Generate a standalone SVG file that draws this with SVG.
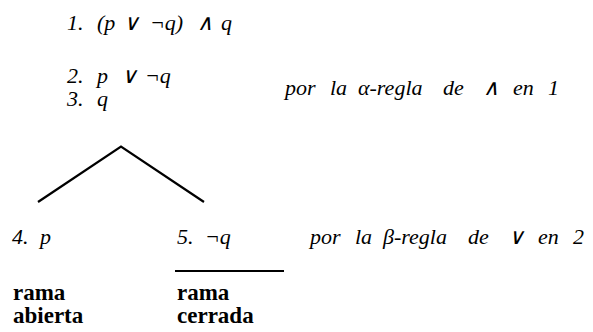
<svg xmlns="http://www.w3.org/2000/svg" width="593" height="332" viewBox="0 0 593 332">
<rect width="593" height="332" fill="#fff"/>
<g id="n1"><text font-family="Liberation Serif" font-style="italic" font-size="22" y="30"><tspan x="67">1.</tspan><tspan x="97">(p</tspan><tspan x="123">∨</tspan><tspan x="150">¬q)</tspan><tspan x="197">∧</tspan><tspan x="221">q</tspan></text></g>
<g id="n2"><text font-family="Liberation Serif" font-style="italic" font-size="22" y="83"><tspan x="67">2.</tspan><tspan x="97">p</tspan><tspan x="121">∨</tspan><tspan x="145">¬q</tspan></text></g>
<g id="n3"><text font-family="Liberation Serif" font-style="italic" font-size="22" y="106"><tspan x="67">3.</tspan><tspan x="97">q</tspan></text></g>
<g id="r1"><text font-family="Liberation Serif" font-style="italic" font-size="22" y="95"><tspan x="285">por</tspan><tspan x="330">la</tspan><tspan x="358">α-regla</tspan><tspan x="443">de</tspan><tspan x="483">∧</tspan><tspan x="513">en</tspan><tspan x="548">1</tspan></text></g>
<g id="n4"><text font-family="Liberation Serif" font-style="italic" font-size="22" y="244"><tspan x="12">4.</tspan><tspan x="40">p</tspan></text></g>
<g id="n5"><text font-family="Liberation Serif" font-style="italic" font-size="22" y="244"><tspan x="177">5.</tspan><tspan x="205">¬q</tspan></text></g>
<g id="r2"><text font-family="Liberation Serif" font-style="italic" font-size="22" y="244"><tspan x="310">por</tspan><tspan x="355">la</tspan><tspan x="383">β-regla</tspan><tspan x="468">de</tspan><tspan x="508">∨</tspan><tspan x="538">en</tspan><tspan x="573">2</tspan></text></g>
<g id="l4"><text font-family="Liberation Serif" font-weight="bold" font-size="23" x="13" y="300">rama</text><text font-family="Liberation Serif" font-weight="bold" font-size="23" x="13" y="323">abierta</text></g>
<g id="l5"><text font-family="Liberation Serif" font-weight="bold" font-size="23" x="177" y="300">rama</text><text font-family="Liberation Serif" font-weight="bold" font-size="23" x="177" y="323">cerrada</text></g>
<g id="connectors" stroke="#000" stroke-width="2.2" fill="none">
<polyline points="38,202 121,146.5 204,202"/>
<line x1="175" y1="271" x2="284" y2="271"/>
</g>
</svg>
